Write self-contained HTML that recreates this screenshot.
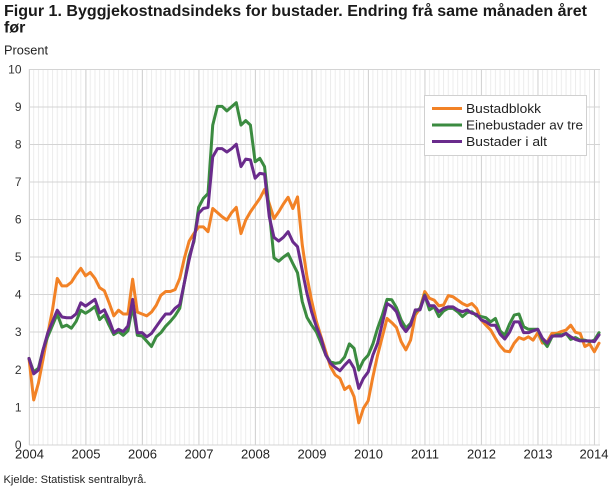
<!DOCTYPE html>
<html>
<head>
<meta charset="utf-8">
<style>
html,body{margin:0;padding:0;background:#fff;}
svg{display:block;}
text{font-family:"Liberation Sans",sans-serif;}
</style>
</head>
<body>
<svg width="610" height="488" viewBox="0 0 610 488" xmlns="http://www.w3.org/2000/svg">
<defs>
<pattern id="mgrid" patternUnits="userSpaceOnUse" x="28.5" y="0" width="4.711" height="488">
<rect x="0" y="0" width="1" height="488" fill="#ececec"/>
</pattern>
</defs>
<rect width="610" height="488" fill="#fff"/>

<!-- Title -->
<text x="4" y="16" font-size="16" font-weight="bold" fill="#1a1a1a" textLength="583" lengthAdjust="spacingAndGlyphs">Figur 1. Byggjekostnadsindeks for bustader. Endring frå same månaden året</text>
<text x="4" y="32.5" font-size="16" font-weight="bold" fill="#1a1a1a">før</text>
<text x="4" y="54.5" font-size="12.5" fill="#222" textLength="44" lengthAdjust="spacingAndGlyphs">Prosent</text>

<!-- monthly grid -->
<rect x="28.5" y="69" width="571.5" height="376" fill="url(#mgrid)"/>
<!-- yearly grid -->
<g stroke="#d4d4d4" stroke-width="1">
<line x1="29.5" y1="69" x2="29.5" y2="445"/>
<line x1="86" y1="69" x2="86" y2="445"/>
<line x1="142.5" y1="69" x2="142.5" y2="445"/>
<line x1="199" y1="69" x2="199" y2="445"/>
<line x1="255.5" y1="69" x2="255.5" y2="445"/>
<line x1="312" y1="69" x2="312" y2="445"/>
<line x1="368.5" y1="69" x2="368.5" y2="445"/>
<line x1="425" y1="69" x2="425" y2="445"/>
<line x1="481.5" y1="69" x2="481.5" y2="445"/>
<line x1="538" y1="69" x2="538" y2="445"/>
<line x1="594.5" y1="69" x2="594.5" y2="445"/>
</g>
<!-- horizontal grid -->
<g stroke="#d4d4d4" stroke-width="1">
<line x1="29" y1="69.5" x2="600" y2="69.5"/>
<line x1="29" y1="107" x2="600" y2="107"/>
<line x1="29" y1="144.5" x2="600" y2="144.5"/>
<line x1="29" y1="182" x2="600" y2="182"/>
<line x1="29" y1="219.5" x2="600" y2="219.5"/>
<line x1="29" y1="257" x2="600" y2="257"/>
<line x1="29" y1="294.5" x2="600" y2="294.5"/>
<line x1="29" y1="332" x2="600" y2="332"/>
<line x1="29" y1="370" x2="600" y2="370"/>
<line x1="29" y1="407.5" x2="600" y2="407.5"/>
<line x1="29" y1="445" x2="600" y2="445"/>
</g>

<!-- y labels -->
<g font-size="12" fill="#333" text-anchor="end">
<text x="21.5" y="73.5">10</text>
<text x="21.5" y="111">9</text>
<text x="21.5" y="148.5">8</text>
<text x="21.5" y="186">7</text>
<text x="21.5" y="223.5">6</text>
<text x="21.5" y="261">5</text>
<text x="21.5" y="298.5">4</text>
<text x="21.5" y="336">3</text>
<text x="21.5" y="374">2</text>
<text x="21.5" y="411.5">1</text>
<text x="21.5" y="449">0</text>
</g>
<!-- x labels -->
<g font-size="13" fill="#222" text-anchor="middle">
<text x="29.5" y="458.5">2004</text>
<text x="86" y="458.5">2005</text>
<text x="142.5" y="458.5">2006</text>
<text x="199" y="458.5">2007</text>
<text x="255.5" y="458.5">2008</text>
<text x="312" y="458.5">2009</text>
<text x="368.5" y="458.5">2010</text>
<text x="425" y="458.5">2011</text>
<text x="481.5" y="458.5">2012</text>
<text x="538" y="458.5">2013</text>
<text x="594" y="458.5">2014</text>
</g>

<!-- series -->
<g transform="matrix(4.711 0 0 -37.4 29 443)" fill="none" stroke-width="3" stroke-linejoin="round" stroke-linecap="round">
<polyline vector-effect="non-scaling-stroke" stroke="#f28226" points="0,2.26 1,1.15 2,1.6 3,2.25 4,2.93 5,3.57 6,4.4 7,4.2 8,4.2 9,4.3 10,4.5 11,4.67 12,4.47 13,4.56 14,4.4 15,4.15 16,4.07 17,3.75 18,3.4 19,3.55 20,3.45 21,3.45 22,4.38 23,3.5 24,3.45 25,3.4 26,3.5 27,3.68 28,3.95 29,4.05 30,4.05 31,4.1 32,4.4 33,4.95 34,5.4 35,5.6 36,5.78 37,5.78 38,5.65 39,6.27 40,6.16 41,6.05 42,5.96 43,6.16 44,6.3 45,5.6 46,5.96 47,6.18 48,6.36 49,6.54 50,6.78 51,6.4 52,6.0 53,6.18 54,6.39 55,6.57 56,6.27 57,6.58 58,5.3 59,4.45 60,3.8 61,3.25 62,2.84 63,2.44 64,2.04 65,1.82 66,1.73 67,1.43 68,1.52 69,1.24 70,0.54 71,0.93 72,1.13 73,1.77 74,2.35 75,2.84 76,3.33 77,3.22 78,3.09 79,2.71 80,2.49 81,2.75 82,3.42 83,3.6 84,4.05 85,3.87 86,3.82 87,3.67 88,3.69 89,3.94 90,3.91 91,3.82 92,3.73 93,3.67 94,3.73 95,3.6 96,3.29 97,3.15 98,3.02 99,2.8 100,2.6 101,2.46 102,2.44 103,2.67 104,2.82 105,2.77 106,2.84 107,2.75 108,2.95 109,2.67 110,2.71 111,2.93 112,2.93 113,2.98 114,3.02 115,3.15 116,2.96 117,2.93 118,2.58 119,2.65 120,2.44 121,2.67"/>
<polyline vector-effect="non-scaling-stroke" stroke="#3b8b40" points="0,2.26 1,1.9 2,2.0 3,2.5 4,2.85 5,3.15 6,3.45 7,3.1 8,3.15 9,3.07 10,3.25 11,3.55 12,3.47 13,3.55 14,3.65 15,3.3 16,3.42 17,3.15 18,2.9 19,2.98 20,2.88 21,3.0 22,3.65 23,2.88 24,2.86 25,2.72 26,2.58 27,2.84 28,2.95 29,3.12 30,3.25 31,3.4 32,3.6 33,4.3 34,5.0 35,5.38 36,6.3 37,6.54 38,6.67 39,8.5 40,9.0 41,9.0 42,8.88 43,8.99 44,9.1 45,8.5 46,8.62 47,8.5 48,7.52 49,7.61 50,7.39 51,6.2 52,4.95 53,4.86 54,4.97 55,5.06 56,4.8 57,4.55 58,3.78 59,3.36 60,3.15 61,2.97 62,2.67 63,2.35 64,2.17 65,2.13 66,2.15 67,2.3 68,2.65 69,2.53 70,1.95 71,2.21 72,2.35 73,2.65 74,3.07 75,3.42 76,3.84 77,3.83 78,3.62 79,3.29 80,3.07 81,3.2 82,3.51 83,3.6 84,3.96 85,3.56 86,3.64 87,3.38 88,3.53 89,3.6 90,3.6 91,3.51 92,3.38 93,3.49 94,3.51 95,3.4 96,3.38 97,3.35 98,3.24 99,3.33 100,3.0 101,2.88 102,3.18 103,3.42 104,3.45 105,3.11 106,3.04 107,3.04 108,3.04 109,2.75 110,2.58 111,2.84 112,2.89 113,2.89 114,2.93 115,2.77 116,2.82 117,2.75 118,2.75 119,2.71 120,2.75 121,2.95"/>
<polyline vector-effect="non-scaling-stroke" stroke="#6a2b8c" points="0,2.26 1,1.85 2,1.95 3,2.5 4,2.95 5,3.25 6,3.55 7,3.37 8,3.35 9,3.35 10,3.45 11,3.75 12,3.66 13,3.75 14,3.84 15,3.48 16,3.56 17,3.29 18,2.95 19,3.04 20,2.98 21,3.13 22,3.84 23,2.95 24,2.95 25,2.84 26,2.93 27,3.11 28,3.29 29,3.45 30,3.45 31,3.6 32,3.7 33,4.3 34,4.9 35,5.43 36,6.14 37,6.27 38,6.3 39,7.65 40,7.87 41,7.87 42,7.78 43,7.87 44,7.99 45,7.39 46,7.59 47,7.57 48,7.08 49,7.21 50,7.19 51,6.05 52,5.5 53,5.4 54,5.5 55,5.65 56,5.38 57,5.25 58,4.62 59,4.0 60,3.5 61,3.11 62,2.8 63,2.35 64,2.13 65,2.02 66,1.93 67,2.08 68,2.21 69,2.0 70,1.46 71,1.73 72,1.9 73,2.35 74,2.67 75,3.2 76,3.73 77,3.65 78,3.51 79,3.15 80,2.98 81,3.15 82,3.56 83,3.56 84,3.94 85,3.67 86,3.67 87,3.51 88,3.6 89,3.64 90,3.64 91,3.56 92,3.51 93,3.56 94,3.47 95,3.44 96,3.29 97,3.24 98,3.15 99,3.15 100,2.91 101,2.78 102,2.96 103,3.24 104,3.24 105,2.95 106,2.95 107,3.0 108,3.04 109,2.8 110,2.67 111,2.86 112,2.86 113,2.86 114,2.93 115,2.84 116,2.77 117,2.73 118,2.73 119,2.73 120,2.71 121,2.89"/>
</g>

<!-- legend -->
<rect x="424.5" y="95.5" width="162" height="60" fill="#fff" stroke="#d0d0d0" stroke-width="1"/>
<line x1="432" y1="108.5" x2="462" y2="108.5" stroke="#f28226" stroke-width="3"/>
<line x1="432" y1="125" x2="462" y2="125" stroke="#3b8b40" stroke-width="3"/>
<line x1="432" y1="141.5" x2="462" y2="141.5" stroke="#6a2b8c" stroke-width="3"/>
<g font-size="13" fill="#222">
<text x="466" y="113" textLength="75" lengthAdjust="spacingAndGlyphs">Bustadblokk</text>
<text x="466" y="129.5" textLength="117" lengthAdjust="spacingAndGlyphs">Einebustader av tre</text>
<text x="466" y="146" textLength="81" lengthAdjust="spacingAndGlyphs">Bustader i alt</text>
</g>

<!-- source -->
<text x="3.5" y="483" font-size="11" fill="#222" textLength="143" lengthAdjust="spacingAndGlyphs">Kjelde: Statistisk sentralbyrå.</text>
</svg>
</body>
</html>
